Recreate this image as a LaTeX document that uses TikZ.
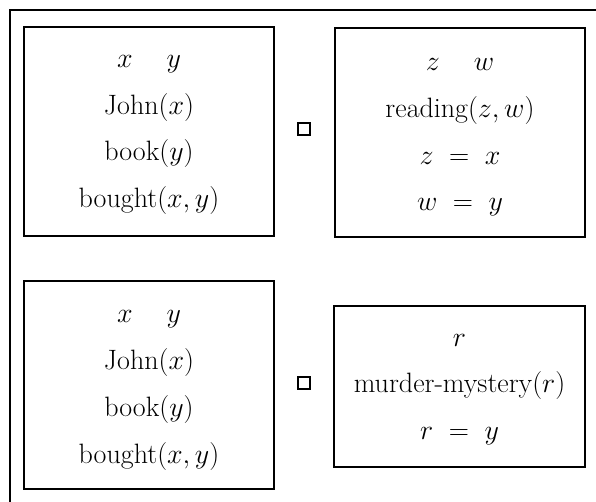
\RequirePackage{fix-cm}
\documentclass[tikz,border=0pt]{standalone}
\newcommand{\gapxy}{\hspace{34pt}}
\begin{document}
\begin{tikzpicture}[x=1pt,y=-1pt,
  drsbox/.style={draw, line width=1.7pt, inner sep=0pt},
  drstext/.style={align=center, inner sep=0pt,
    font=\fontsize{28}{46.7}\selectfont},
  opbox/.style={draw, line width=1.3pt, minimum size=12pt, inner sep=0pt},
  frameline/.style={line width=1.7pt}]
\useasboundingbox (0,0) rectangle (596,502);
\draw[frameline] (10,502) -- (10,10) -- (596,10);
% top row
\node[drsbox, minimum width=250pt, minimum height=209pt] (b1) at (149,131.5) {};
\node[drstext, yshift=-3.5pt] (t1) at (b1.center)
  {$x$\gapxy$y$\\ John($x$)\\ book($y$)\\ bought($x,y$)};
\node[opbox] (s1) at (304,129) {};
\node[drsbox, minimum width=250pt, minimum height=209pt] (b2) at (460,132.5) {};
\node[drstext, yshift=-5pt] (t2) at (b2.center)
  {$z$\gapxy$w$\\ reading($z,w$)\\ $z\;=\;x$\\ $w\;=\;y$};
% bottom row
\node[drsbox, minimum width=250pt, minimum height=208pt] (b3) at (149,385) {};
\node[drstext, yshift=-5.5pt] (t3) at (b3.center)
  {$x$\gapxy$y$\\ John($x$)\\ book($y$)\\ bought($x,y$)};
\node[opbox] (s2) at (304,383) {};
\node[drsbox, minimum width=251pt, minimum height=161pt] (b4) at (459.5,386.5) {};
\node[drstext, yshift=-3pt] (t4) at (b4.center)
  {$r$\\ murder-mystery($r$)\\ $r\;=\;y$};
\end{tikzpicture}
\end{document}
